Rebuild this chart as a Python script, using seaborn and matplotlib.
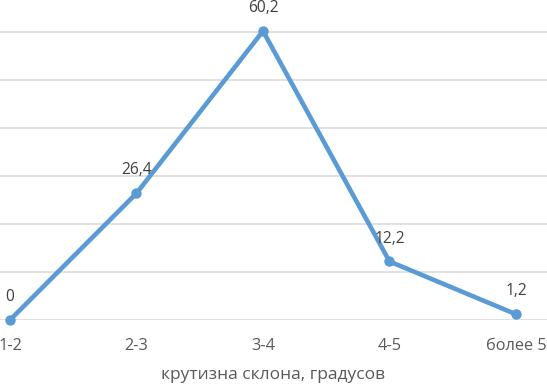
import matplotlib
matplotlib.use("Agg")
import matplotlib.pyplot as plt
import seaborn as sns
import pandas as pd

categories = ["1-2", "2-3", "3-4", "4-5", "более 5"]
values = [0, 26.4, 60.2, 12.2, 1.2]
value_labels = ["0", "26,4", "60,2", "12,2", "1,2"]
x_label = "крутизна склона, градусов"
y_ticks = [0, 10, 20, 30, 40, 50, 60]

sns.set_theme(style="white")
plt.rcParams['font.family'] = ['Open Sans', 'DejaVu Sans']

W, H = 547, 385
fig = plt.figure(figsize=(W / 100, H / 100), dpi=100)
# axes spans full width; bottom at pixel 320, top at pixel 0
ax = fig.add_axes([0, (H - 320) / H, 1, 320 / H])

df = pd.DataFrame({"cat": range(len(categories)), "val": values})
color = "#5B9BD5"
sns.lineplot(data=df, x="cat", y="val", ax=ax, color=color, linewidth=3.3,
             marker="o", markersize=7.5, markeredgewidth=0, clip_on=False, zorder=3)

spacing = 126.5
ax.set_xlim(-10 / spacing, (W - 10) / spacing)
ax.set_ylim(0, 320 / 4.8)

ax.set_yticks(y_ticks)
ax.yaxis.grid(True, color="#D9D9D9", linewidth=1.1)
ax.set_axisbelow(True)
ax.tick_params(axis="y", left=False, labelleft=False)
ax.set_xticks(range(len(categories)))
ax.set_xticklabels(categories)
ax.tick_params(axis="x", length=0, pad=13, labelsize=11.8, labelcolor="#595959")
for s in ax.spines.values():
    s.set_visible(False)

ax.set_ylabel("")
ax.set_xlabel(x_label, fontsize=12.5, color="#595959", labelpad=9)

for i, (v, lab) in enumerate(zip(values, value_labels)):
    ax.annotate(lab, (i, v), xytext=(0, 16.5), textcoords="offset points",
                ha="center", va="center", fontsize=11.2, color="#404040",
                annotation_clip=False)

fig.savefig("out.png", dpi=100)
